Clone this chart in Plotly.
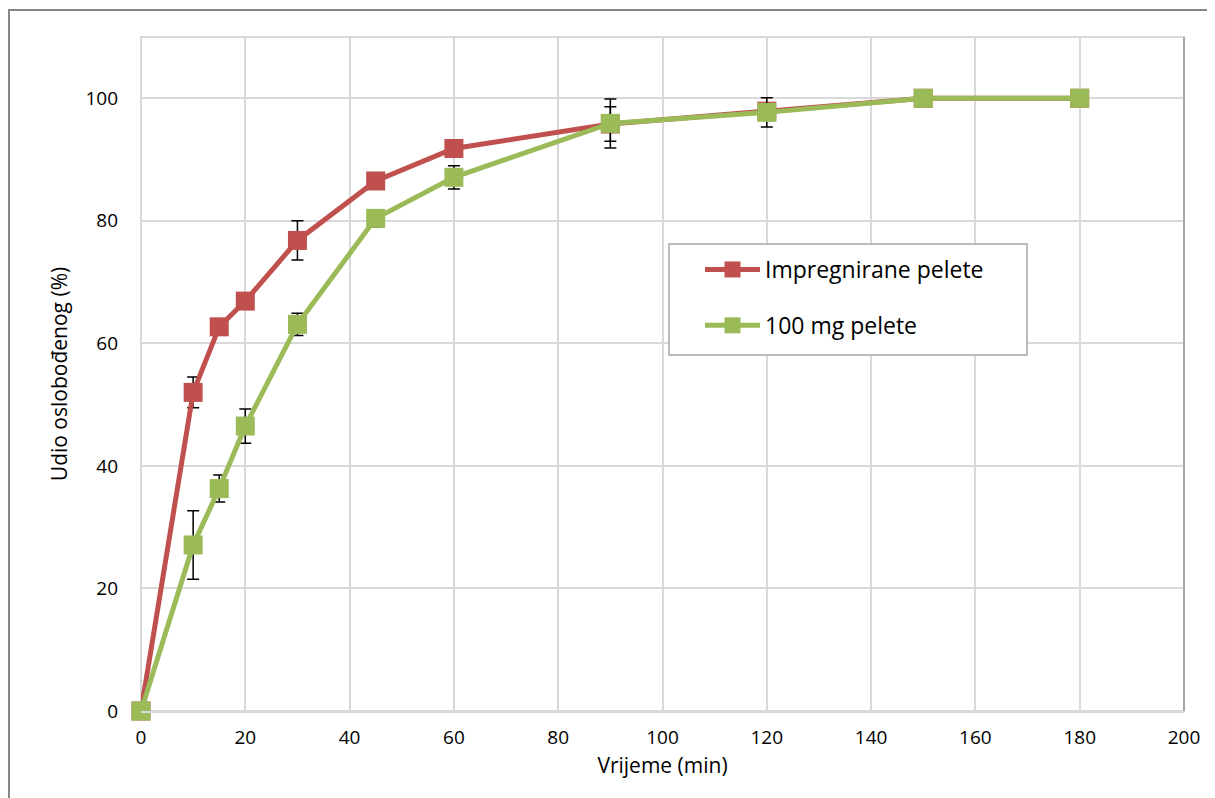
import plotly.graph_objects as go

time_min = [0, 10, 15, 20, 30, 45, 60, 90, 120, 150, 180]
impregnirane = [0, 52.0, 62.7, 66.9, 76.8, 86.5, 91.8, 95.8, 97.9, 100, 100]
impregnirane_err = [0, 2.5, 0.5, 0.5, 3.2, 0.8, 0.6, 2.8, 0.8, 0, 0]
pelete_100mg = [0, 27.1, 36.3, 46.5, 63.1, 80.4, 87.1, 95.9, 97.7, 100, 100]
pelete_100mg_err = [0, 5.6, 2.2, 2.8, 1.8, 1.4, 1.9, 4.0, 2.4, 0, 0]

x_ticks = list(range(0, 201, 20))
y_ticks = list(range(0, 101, 20))

RED = "#C0504D"
GREEN = "#9BBB59"
FONT = "Open Sans"

# page body has an 8px margin; figure is sized so the plot lands where the reference has it
W, H = 1207, 790
ML, MR, MT, MB = 133, 31, 29, 87
PW, PH = W - ML - MR, H - MT - MB


def px_x(p):  # page x pixel -> paper fraction
    return (p - 8 - ML) / PW


def px_y(p):  # page y pixel -> paper fraction
    return (MT + PH - (p - 8)) / PH


fig = go.Figure()
fig.add_trace(go.Scatter(
    x=time_min, y=impregnirane, name="Impregnirane pelete", mode="lines+markers",
    legendgroup="a", cliponaxis=False,
    line=dict(color=RED, width=5),
    marker=dict(symbol="square", size=19, color=RED),
    error_y=dict(type="data", array=impregnirane_err, color="black", thickness=1.5, width=6),
))
fig.add_trace(go.Scatter(
    x=time_min, y=pelete_100mg, name="100 mg pelete", mode="lines+markers",
    legendgroup="b", cliponaxis=False,
    line=dict(color=GREEN, width=5),
    marker=dict(symbol="square", size=19, color=GREEN),
    error_y=dict(type="data", array=pelete_100mg_err, color="black", thickness=1.5, width=6),
))

fig.update_layout(
    width=W, height=H,
    margin=dict(l=ML, r=MR, t=MT, b=MB),
    paper_bgcolor="white", plot_bgcolor="white",
    font=dict(family=FONT, size=19, color="black"),
    showlegend=True,
    legend=dict(
        x=px_x(700), y=px_y(248), xanchor="left", yanchor="top",
        bgcolor="rgba(0,0,0,0)", borderwidth=0,
        font=dict(family=FONT, size=23, color="black"),
        traceorder="grouped", tracegroupgap=23, itemwidth=55,
    ),
    xaxis=dict(
        range=[0, 200], tickvals=x_ticks, showgrid=True, gridcolor="#D9D9D9", gridwidth=1.5,
        zeroline=False, showline=True, linecolor="#D9D9D9", linewidth=2, mirror=False,
        ticks="", tickfont=dict(family=FONT, size=19), ticklabelstandoff=8,
        title=dict(text="Vrijeme (min)", font=dict(family=FONT, size=21), standoff=10),
    ),
    yaxis=dict(
        range=[0, 110], tickvals=y_ticks, showgrid=True, gridcolor="#D9D9D9", gridwidth=1.5,
        zeroline=False, showline=False,
        ticks="", tickfont=dict(family=FONT, size=19), ticklabelstandoff=22,
        title=dict(text="Udio oslobođenog (%)", font=dict(family=FONT, size=21), standoff=12),
    ),
)

# plot-area border
fig.add_shape(type="rect", xref="paper", yref="paper", x0=0, y0=0, x1=1, y1=1,
              line=dict(color="#D9D9D9", width=2), layer="below")
fig.add_shape(type="line", xref="paper", yref="paper", x0=1, y0=0, x1=1, y1=1,
              line=dict(color="#A6A6A6", width=2))
# legend box
fig.add_shape(type="rect", xref="paper", yref="paper",
              x0=px_x(669), y0=px_y(355), x1=px_x(1027), y1=px_y(244),
              fillcolor="white", line=dict(color="#A6A6A6", width=1.5), layer="above")
# outer chart border (page coords: left 9, top 10; extends past right/bottom)
fig.add_shape(type="rect", xref="paper", yref="paper",
              x0=px_x(9), y0=px_y(830), x1=px_x(1260), y1=px_y(10),
              line=dict(color="#868686", width=2), layer="below")

fig.write_html("out.html")
